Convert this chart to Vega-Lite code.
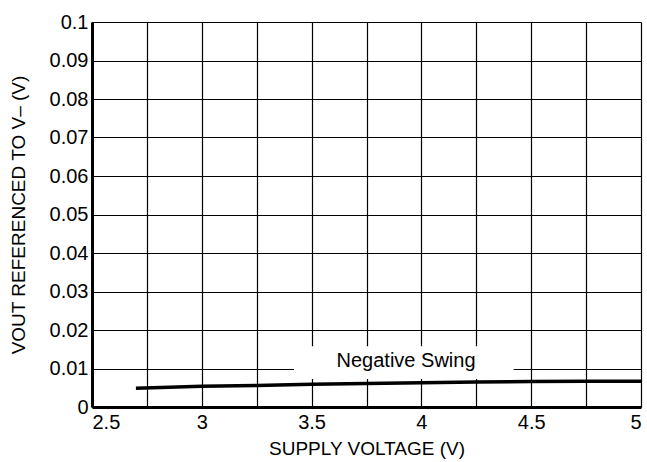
{
  "$schema": "https://vega.github.io/schema/vega-lite/v6.json",
  "width": 549,
  "height": 385,
  "autosize": {"type": "none"},
  "padding": {"left": 92, "top": 22, "right": 6, "bottom": 55},
  "background": "white",
  "config": {
    "view": {"stroke": null},
    "font": "Liberation Sans",
    "axis": {
      "grid": true,
      "gridColor": "black",
      "gridOpacity": 1,
      "gridWidth": 1.2,
      "domainColor": "black",
      "domainWidth": 3,
      "ticks": false,
      "labelOverlap": false,
      "labelFont": "Liberation Sans",
      "labelFontSize": 20,
      "labelColor": "black",
      "titleFont": "Liberation Sans",
      "titleFontSize": 19,
      "titleFontWeight": "normal",
      "titleColor": "black"
    }
  },
  "datasets": {
    "curve": [
      {"v": 2.7, "out": 0.0049},
      {"v": 3.0, "out": 0.0054},
      {"v": 3.25, "out": 0.0056},
      {"v": 3.5, "out": 0.0059},
      {"v": 3.75, "out": 0.0061},
      {"v": 4.0, "out": 0.0063},
      {"v": 4.25, "out": 0.0065},
      {"v": 4.5, "out": 0.0066},
      {"v": 4.75, "out": 0.0067},
      {"v": 5.0, "out": 0.0067}
    ],
    "label": [
      {"x": 3.42, "x2": 4.42, "y": 0.0073, "y2": 0.0158, "tx": 3.93, "ty": 0.0119, "text": "Negative Swing"}
    ]
  },
  "layer": [
    {
      "data": {"name": "label"},
      "mark": {"type": "rect", "fill": "white", "stroke": null},
      "encoding": {
        "x": {
          "field": "x", "type": "quantitative",
          "scale": {"domain": [2.5, 5], "nice": false, "zero": false},
          "axis": {
            "values": [2.5, 2.75, 3, 3.25, 3.5, 3.75, 4, 4.25, 4.5, 4.75, 5],
            "tickCount": 20,
            "labelExpr": "(datum.value*2)%1==0 ? format(datum.value,'~g') : ''",
            "labelPadding": 5,
            "title": "SUPPLY VOLTAGE (V)",
            "titlePadding": 7
          }
        },
        "x2": {"field": "x2"},
        "y": {
          "field": "y", "type": "quantitative",
          "scale": {"domain": [0, 0.1], "nice": false},
          "axis": {
            "values": [0, 0.01, 0.02, 0.03, 0.04, 0.05, 0.06, 0.07, 0.08, 0.09, 0.1],
            "tickCount": 20,
            "format": "~g",
            "labelPadding": 4,
            "title": "VOUT REFERENCED TO V– (V)",
            "titlePadding": 21
          }
        },
        "y2": {"field": "y2"}
      }
    },
    {
      "data": {"name": "label"},
      "mark": {"type": "text", "fontSize": 20, "font": "Liberation Sans", "color": "black", "align": "center", "baseline": "middle"},
      "encoding": {
        "x": {"field": "tx", "type": "quantitative"},
        "y": {"field": "ty", "type": "quantitative"},
        "text": {"field": "text"}
      }
    },
    {
      "data": {"name": "curve"},
      "mark": {"type": "line", "color": "black", "strokeWidth": 3.5, "strokeCap": "butt"},
      "encoding": {
        "x": {"field": "v", "type": "quantitative"},
        "y": {"field": "out", "type": "quantitative"}
      }
    }
  ]
}
